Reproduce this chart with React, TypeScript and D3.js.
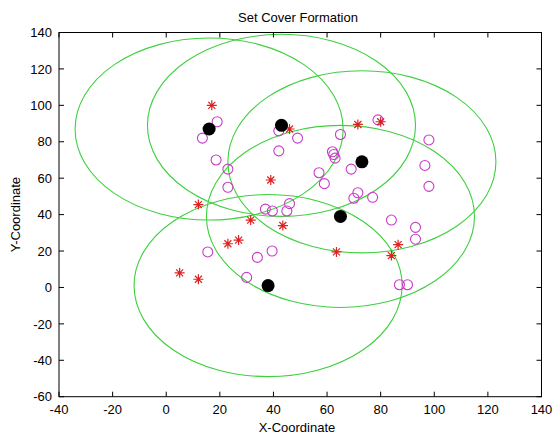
import React, { useEffect, useRef } from "react";
import * as d3 from "d3";

// facility centres (black) and the cover radius
const centerX = [16, 43, 73, 65, 38];
const centerY = [87, 89, 69, 39, 1];
const coverRadius = 50;

// covered demand points (magenta circles)
const circleX = [19, 13.5, 42, 49, 65, 79, 98, 42, 18.6, 62, 62.5, 63, 23, 57, 69, 96.5, 59, 98, 23, 71.5, 70, 77, 46, 37, 39.6, 45, 84, 93, 93, 15.5, 39.5, 34, 30, 87, 90];
const circleY = [91, 82, 86, 82, 84, 92, 81, 75, 70, 74.5, 73, 71, 65, 63, 65, 67, 57, 55.5, 55, 52, 49, 49.5, 46, 43, 42, 42, 37, 33, 26.5, 19.5, 20, 16.5, 5.5, 1.5, 1.5];

// other points (red stars)
const starX = [17, 46, 71.5, 80, 39, 12, 31.5, 43.5, 27, 23, 86.5, 63.5, 84, 5, 12];
const starY = [100, 87, 89.5, 91, 59, 45.5, 37, 34, 26, 24, 23.5, 19.5, 17.5, 8, 4.5];

const xTicks = [-40, -20, 0, 20, 40, 60, 80, 100, 120, 140];
const yTicks = [-60, -40, -20, 0, 20, 40, 60, 80, 100, 120, 140];

export default function App() {
  const svgRef = useRef<SVGSVGElement>(null);

  useEffect(() => {
    if (!svgRef.current) return;
    const width = 553;
    const height = 437;
    const left = 59;
    const right = 541.5;
    const top = 32.5;
    const bottom = 396.7;
    const font = "Liberation Sans, Arial, sans-serif";

    const svg = d3.select(svgRef.current);
    svg.selectAll("*").remove();
    svg.attr("width", width).attr("height", height);

    svg.append("rect").attr("width", width).attr("height", height).attr("fill", "#fff");

    const x = d3.scaleLinear().domain([-40, 140]).range([left, right]);
    const y = d3.scaleLinear().domain([-60, 140]).range([bottom, top]);

    svg.append("defs").append("clipPath").attr("id", "plot-clip")
      .append("rect")
      .attr("x", left).attr("y", top)
      .attr("width", right - left).attr("height", bottom - top);

    const plot = svg.append("g").attr("clip-path", "url(#plot-clip)");

    // cover circles (ellipses because the axes are not equal)
    plot.append("g")
      .selectAll("ellipse")
      .data(centerX.map((cx, i) => ({ cx, cy: centerY[i] })))
      .join("ellipse")
      .attr("cx", d => x(d.cx))
      .attr("cy", d => y(d.cy))
      .attr("rx", x(coverRadius) - x(0))
      .attr("ry", y(0) - y(coverRadius))
      .attr("fill", "none")
      .attr("stroke", "#3fcf3f")
      .attr("stroke-width", 1.1);

    // magenta circles
    plot.append("g")
      .selectAll("circle")
      .data(circleX.map((cx, i) => ({ cx, cy: circleY[i] })))
      .join("circle")
      .attr("cx", d => x(d.cx))
      .attr("cy", d => y(d.cy))
      .attr("r", 5)
      .attr("fill", "none")
      .attr("stroke", "#c83cc8")
      .attr("stroke-width", 1.1);

    // red stars
    const r = 5;
    const k = r * 0.7;
    const starPath = `M${-r},0H${r}M0,${-r}V${r}M${-k},${-k}L${k},${k}M${-k},${k}L${k},${-k}`;
    plot.append("g")
      .selectAll("path")
      .data(starX.map((sx, i) => ({ sx, sy: starY[i] })))
      .join("path")
      .attr("transform", d => `translate(${x(d.sx)},${y(d.sy)})`)
      .attr("d", starPath)
      .attr("fill", "none")
      .attr("stroke", "#dd2222")
      .attr("stroke-width", 1.2);

    // black centres
    plot.append("g")
      .selectAll("circle")
      .data(centerX.map((cx, i) => ({ cx, cy: centerY[i] })))
      .join("circle")
      .attr("cx", d => x(d.cx))
      .attr("cy", d => y(d.cy))
      .attr("r", 6.5)
      .attr("fill", "#000");

    // axes box
    svg.append("rect")
      .attr("x", left).attr("y", top)
      .attr("width", right - left).attr("height", bottom - top)
      .attr("fill", "none").attr("stroke", "#000").attr("stroke-width", 1);

    const ticks = svg.append("g").attr("stroke", "#000").attr("stroke-width", 1);
    const tl = 5;
    xTicks.forEach(t => {
      ticks.append("line").attr("x1", x(t)).attr("x2", x(t)).attr("y1", bottom).attr("y2", bottom - tl);
      ticks.append("line").attr("x1", x(t)).attr("x2", x(t)).attr("y1", top).attr("y2", top + tl);
    });
    yTicks.forEach(t => {
      ticks.append("line").attr("x1", left).attr("x2", left + tl).attr("y1", y(t)).attr("y2", y(t));
      ticks.append("line").attr("x1", right).attr("x2", right - tl).attr("y1", y(t)).attr("y2", y(t));
    });

    svg.append("g")
      .selectAll("text")
      .data(xTicks)
      .join("text")
      .attr("x", d => x(d))
      .attr("y", 413.5)
      .attr("text-anchor", "middle")
      .style("font-family", font)
      .style("font-size", "13px")
      .text(d => d);

    svg.append("g")
      .selectAll("text")
      .data(yTicks)
      .join("text")
      .attr("x", left - 7)
      .attr("y", d => y(d))
      .attr("dy", "0.36em")
      .attr("text-anchor", "end")
      .style("font-family", font)
      .style("font-size", "13px")
      .text(d => d);

    svg.append("text")
      .attr("x", 298)
      .attr("y", 21.5)
      .attr("text-anchor", "middle")
      .style("font-family", font)
      .style("font-size", "13px")
      .text("Set Cover Formation");

    svg.append("text")
      .attr("x", 297)
      .attr("y", 431.5)
      .attr("text-anchor", "middle")
      .style("font-family", font)
      .style("font-size", "13px")
      .text("X-Coordinate");

    svg.append("text")
      .attr("transform", `translate(19.5,${(top + bottom) / 2}) rotate(-90)`)
      .attr("text-anchor", "middle")
      .style("font-family", font)
      .style("font-size", "13px")
      .text("Y-Coordinate");
  }, []);

  return (
    <div style={{ position: "absolute", left: 0, top: 0 }}>
      <svg ref={svgRef}></svg>
    </div>
  );
}
